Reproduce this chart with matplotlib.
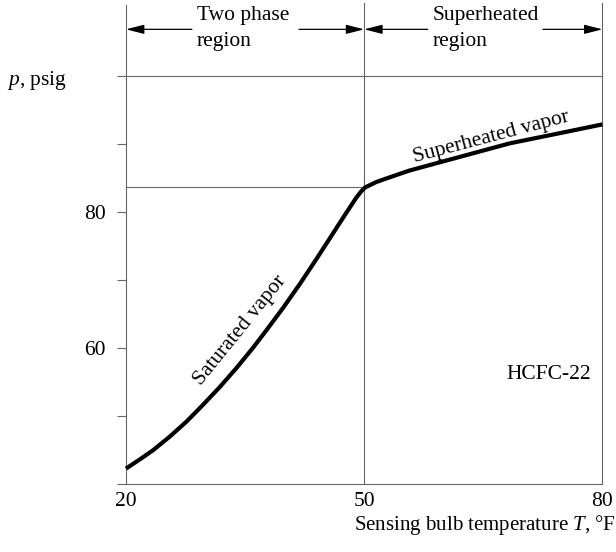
import numpy as np
import matplotlib
matplotlib.use('Agg')
import matplotlib.pyplot as plt

plt.rcParams['font.family'] = ['Liberation Serif', 'DejaVu Serif']
plt.rcParams['mathtext.fontset'] = 'custom'
plt.rcParams['mathtext.rm'] = 'Liberation Serif'
plt.rcParams['mathtext.it'] = 'Liberation Serif:italic'

# values
t_sat = [20, 21.8, 23.4, 25.5, 27.6, 29.7, 31.8, 33.9, 36.0, 37.7, 39.8,
         41.9, 44.0, 46.1, 47.7, 49.0, 49.6, 50.1]
p_sat = [42.2, 43.6, 44.9, 46.9, 49.1, 51.6, 54.2, 57.0, 60.0, 62.6, 65.9,
         69.4, 73.1, 76.9, 79.8, 82.1, 83.0, 83.6]
t_sup = [50.1, 51.5, 53.2, 55.7, 62.0, 68.3, 74.6, 80]
p_sup = [83.6, 84.4, 85.1, 86.1, 88.1, 90.1, 91.6, 92.9]
p_knee = 83.7
t_knee = 50

xticks = [20, 50, 80]
yticks = [40, 50, 60, 70, 80, 90, 100]
ylabels = ['', '', '60', '', '80', '', '']

fs = 15.5
fig = plt.figure(figsize=(6.16, 5.52), dpi=100)
ax = fig.add_axes([0.2045, 0.124, 0.7735, 0.738])

t_all = t_sat + t_sup[1:]
p_all = p_sat + p_sup[1:]
ax.plot(t_all, p_all, color='black', lw=3, solid_joinstyle='round',
        solid_capstyle='butt', clip_on=False, zorder=3)

gray = '0.4'
ax.plot([20, t_knee], [p_knee, p_knee], color=gray, lw=0.8)
ax.plot([t_knee, t_knee], [40, 110.8], color=gray, lw=0.8, clip_on=False)
ax.plot([20, 20], [100, 110.5], color=gray, lw=0.8, clip_on=False)
ax.plot([80, 80], [100, 110.8], color=gray, lw=0.8, clip_on=False)

ax.set_xlim(20, 80)
ax.set_ylim(40, 100)
ax.set_xticks(xticks)
ax.set_xticklabels([str(v) for v in xticks])
ax.set_yticks(yticks)
ax.set_yticklabels(ylabels)
ax.tick_params(axis='x', length=0, pad=6, labelsize=fs)
ax.tick_params(axis='y', length=6.5, width=0.8, color=gray, pad=8, labelsize=fs)
for s in ax.spines.values():
    s.set_color(gray)
    s.set_linewidth(0.8)

fig.text(0.012, 0.855, '$p$, psig', fontsize=fs, ha='left', va='center')
fig.text(0.999, 0.049, 'Sensing bulb temperature $T$, °F', fontsize=15,
         ha='right', va='center')

ax.text(66.0, 91.0, 'Superheated vapor', fontsize=fs, rotation=14.8,
        ha='center', va='center', rotation_mode='anchor')
ax.text(34.4, 62.6, 'Saturated vapor', fontsize=fs, rotation=51,
        ha='center', va='center', rotation_mode='anchor')
ax.text(78.6, 56, 'HCFC-22', fontsize=fs, ha='right', va='center')

# header with region arrows
arr = dict(arrowstyle='-|>,head_length=1.1,head_width=0.28', color='black',
           lw=0.9, shrinkA=0, shrinkB=0)
y_arr = 106.9
ax.annotate('', xy=(20, y_arr), xytext=(28.3, y_arr), arrowprops=arr,
            annotation_clip=False)
ax.annotate('', xy=(50, y_arr), xytext=(41.8, y_arr), arrowprops=arr,
            annotation_clip=False)
ax.annotate('', xy=(50, y_arr), xytext=(58.0, y_arr), arrowprops=arr,
            annotation_clip=False)
ax.annotate('', xy=(80, y_arr), xytext=(72.5, y_arr), arrowprops=arr,
            annotation_clip=False)
ax.text(28.9, 107.0, 'Two phase\nregion', fontsize=fs, ha='left', va='center',
        linespacing=1.45, clip_on=False)
ax.text(58.6, 107.0, 'Superheated\nregion', fontsize=fs, ha='left', va='center',
        linespacing=1.45, clip_on=False)

fig.savefig('out.png', dpi=100)
